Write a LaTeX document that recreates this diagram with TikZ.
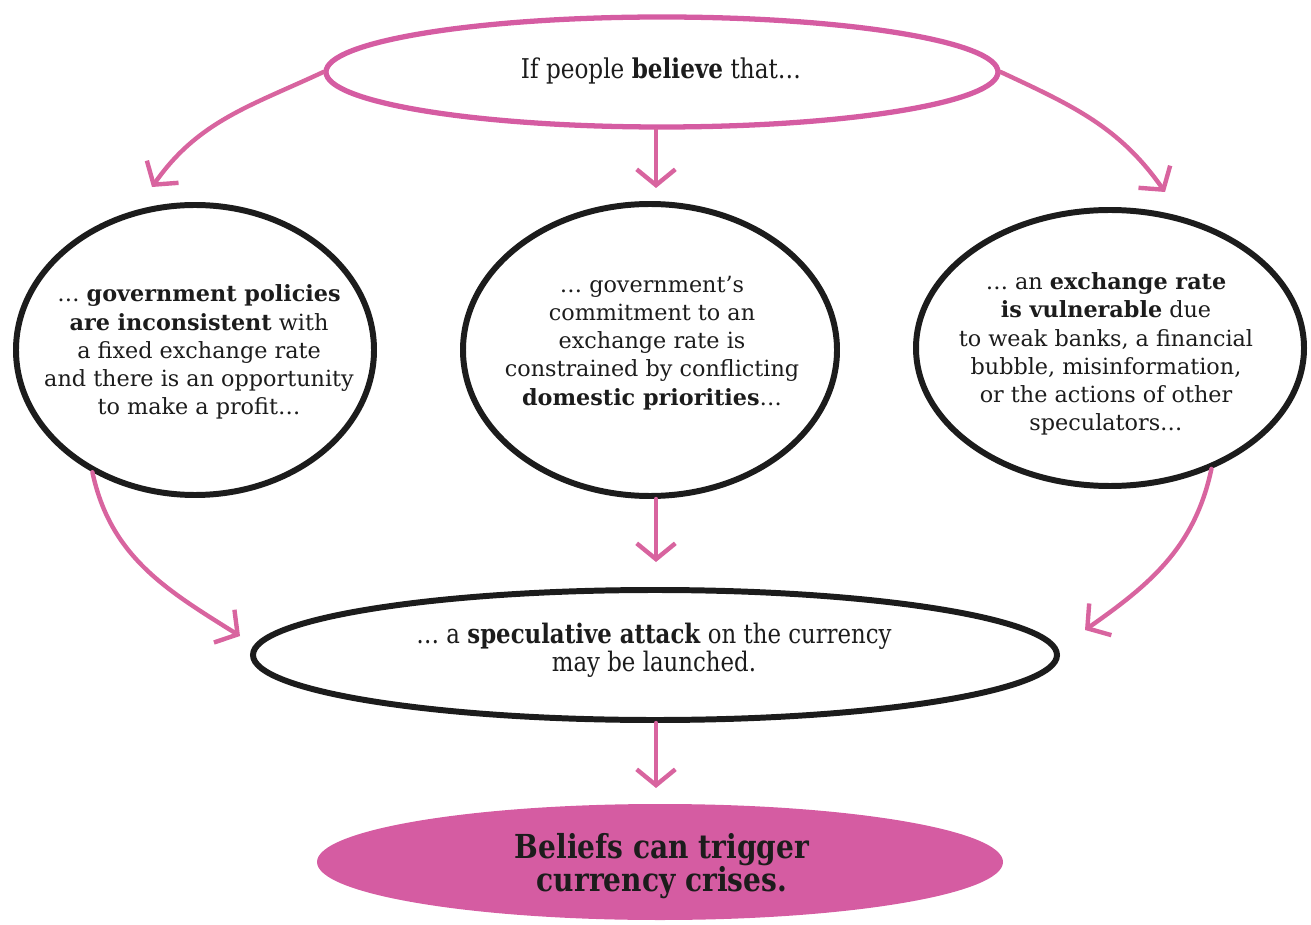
\documentclass[tikz,border=0pt]{standalone}
\usepackage{fontspec}
\setmainfont{DejaVu Serif}
\newfontfamily\narrowfont{DejaVu Serif}[FakeStretch=0.85]
\usetikzlibrary{shapes.geometric,arrows.meta}
\definecolor{beliefpink}{HTML}{D55CA2}
\definecolor{arrowpink}{HTML}{D8649F}
\definecolor{inkblack}{HTML}{1C1C1C}
\newcommand\px{0.02cm}

\begin{document}
\begin{tikzpicture}[x=\px, y=-\px,
    bubble/.style={ellipse, draw=inkblack, line width=3.4pt, inner sep=0pt},
    topbubble/.style={bubble, draw=beliefpink, line width=3pt},
    bodytxt/.style={align=center, text=inkblack, font=\fontsize{12.7}{16}\selectfont},
    flow/.style={draw=arrowpink, line width=2.5pt, line cap=round,
      -{Straight Barb[length=9pt, width=22pt]}}]
    \useasboundingbox (0,0) rectangle (1311,925);

    % Starting belief
    \node[topbubble, minimum width=672*\px, minimum height=110*\px] (belief) at (662,72) {};
    \node[bodytxt, font=\narrowfont\fontsize{15.5}{17}\selectfont] (beliefTxt) at (661,71)
        {If people \textbf{believe} that\ldots};

    % Three reasons
    \node[bubble, minimum width=358*\px, minimum height=290*\px] (policy) at (195,350) {};
    \node[bodytxt] (policyTxt) at (199,352)
        {\ldots{} \textbf{government policies}\\\textbf{are inconsistent} with\\a fixed exchange rate\\and there is an opportunity\\to make a profit\ldots};

    \node[bubble, minimum width=374*\px, minimum height=292*\px] (commit) at (650,350) {};
    \node[bodytxt] (commitTxt) at (652,343)
        {\ldots{} government's\\commitment to an\\exchange rate is\\constrained by conflicting\\\textbf{domestic priorities}\ldots};

    \node[bubble, minimum width=388*\px, minimum height=276*\px] (vulner) at (1110,348) {};
    \node[bodytxt] (vulnerTxt) at (1106,354)
        {\ldots{} an \textbf{exchange rate}\\\textbf{is vulnerable} due\\to weak banks, a financial\\bubble, misinformation,\\or the actions of other\\speculators\ldots};

    % Attack
    \node[bubble, minimum width=804*\px, minimum height=130*\px] (attack) at (655,655) {};
    \node[bodytxt, font=\narrowfont\fontsize{15.3}{16}\selectfont] (attackTxt) at (654,650)
        {\ldots{} a \textbf{speculative attack} on the currency\\may be launched.};

    % Conclusion
    \node[ellipse, fill=beliefpink, minimum width=686*\px, minimum height=116*\px] (crisis) at (660,862) {};
    \node[align=center, text=inkblack, font=\narrowfont\bfseries\fontsize{18.8}{18.5}\selectfont] (crisisTxt) at (662,866)
        {Beliefs can trigger\\currency crises.};

    % Arrow tips
    \coordinate (tipPolicy) at (152,187);
    \coordinate (tipCommit) at (656,188);
    \coordinate (tipVulner) at (1165,192);
    \coordinate (tipAttackL) at (240,636);
    \coordinate (tipAttackM) at (656,562);
    \coordinate (tipAttackR) at (1085,630);
    \coordinate (tipCrisis) at (656,788);

    \draw[flow] (belief.west) to[out=205, in=55] (tipPolicy);
    \draw[flow] (belief.south -| tipCommit) -- (tipCommit);
    \draw[flow] (belief.east) to[out=-25, in=125] (tipVulner);
    \draw[flow] (policy.-130) to[out=-78, in=148] (tipAttackL);
    \draw[flow] (commit.south -| tipAttackM) -- (tipAttackM);
    \draw[flow] (vulner.-50) to[out=-102, in=35] (tipAttackR);
    \draw[flow] (attack.south -| tipCrisis) -- (tipCrisis);
\end{tikzpicture}
\end{document}
